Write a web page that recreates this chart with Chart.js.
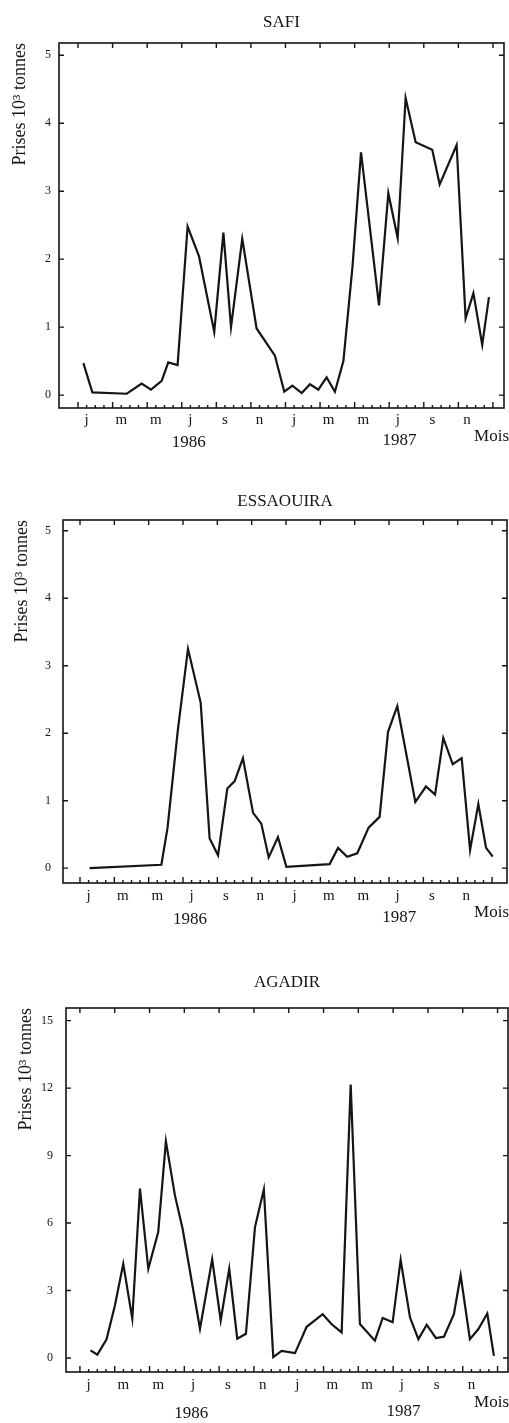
<!DOCTYPE html>
<html>
<head>
<meta charset="utf-8">
<script src="https://cdn.jsdelivr.net/npm/chart.js@4.4.0/dist/chart.umd.min.js"></script>
<style>
    body { margin: 0; background: #fff; width: 509px; height: 1423px; position: relative; overflow: hidden; }
    canvas { position: absolute; left: 0; }
</style>
</head>
<body>
<canvas id="safiChart" width="509" height="460" style="top:0px"></canvas>
<canvas id="essChart" width="509" height="470" style="top:465px"></canvas>
<canvas id="agaChart" width="509" height="473" style="top:950px"></canvas>
<script>
// month letters shown under the x axis (every 2 months, Jan 1986 .. Nov 1987)
const monthLetters = ['j', 'm', 'm', 'j', 's', 'n', 'j', 'm', 'm', 'j', 's', 'n'];
const yearLabels = ['1986', '1987'];
const yLabel = 'Prises 10³ tonnes';

// x = months since 1 Jan 1986, y = catch (10^3 t)
const safiMonths = [0.31, 0.83, 2.82, 3.68, 4.22, 4.84, 5.22, 5.76, 6.34, 7.0, 7.88, 8.41, 8.85, 9.5, 10.33,
    11.39, 11.93, 12.4, 12.94, 13.42, 13.9, 14.38, 14.86, 15.35, 15.88, 16.37, 17.41, 17.95, 18.49, 18.95,
    19.53, 20.49, 20.92, 21.9, 22.42, 22.87, 23.38, 23.77];
const safiCatch = [0.47, 0.04, 0.02, 0.17, 0.08, 0.21, 0.48, 0.44, 2.48, 2.04, 0.93, 2.39, 1.0, 2.3, 0.98,
    0.58, 0.05, 0.14, 0.03, 0.16, 0.08, 0.26, 0.05, 0.5, 1.9, 3.57, 1.32, 2.97, 2.31, 4.37,
    3.72, 3.61, 3.1, 3.68, 1.13, 1.5, 0.74, 1.44];

const essMonths = [0.56, 4.74, 5.1, 5.7, 6.29, 7.03, 7.55, 8.04, 8.58, 9.01, 9.49, 10.08, 10.56, 10.99, 11.53,
    12.02, 14.54, 15.03, 15.56, 16.15, 16.81, 17.45, 17.94, 18.48, 19.53, 20.15, 20.68, 21.16, 21.71,
    22.23, 22.72, 23.2, 23.65, 24.04];
const essCatch = [0.0, 0.05, 0.6, 2.05, 3.25, 2.45, 0.44, 0.19, 1.18, 1.29, 1.63, 0.82, 0.66, 0.16, 0.46,
    0.02, 0.06, 0.3, 0.17, 0.22, 0.6, 0.76, 2.02, 2.4, 0.98, 1.21, 1.09, 1.93, 1.54,
    1.63, 0.27, 0.95, 0.3, 0.17];

const agaMonths = [0.61, 1.0, 1.53, 2.01, 2.49, 3.01, 3.45, 3.93, 4.5, 4.94, 5.46, 5.9, 6.9, 7.6, 8.09, 8.58,
    9.04, 9.54, 10.06, 10.57, 11.11, 11.59, 12.36, 13.03, 13.95, 14.47, 15.04, 15.56, 16.09, 16.95, 17.4,
    17.97, 18.43, 18.97, 19.45, 19.93, 20.46, 20.92, 21.49, 21.88, 22.41, 22.89, 23.41, 23.79];
const agaCatch = [0.34, 0.15, 0.83, 2.34, 4.19, 1.75, 7.53, 3.97, 5.6, 9.63, 7.23, 5.75, 1.3, 4.39, 1.67, 3.97,
    0.86, 1.08, 5.82, 7.5, 0.04, 0.32, 0.22, 1.39, 1.95, 1.5, 1.14, 12.16, 1.51, 0.77, 1.78,
    1.59, 4.36, 1.8, 0.84, 1.48, 0.89, 0.95, 1.95, 3.68, 0.84, 1.28, 1.98, 0.1];

const safiTicks = [0, 1, 2, 3, 4, 5];
const essTicks = [0, 1, 2, 3, 4, 5];
const agaTicks = [0, 3, 6, 9, 12, 15];

const ink = '#151515';
const serif = '"Liberation Serif", "DejaVu Serif", serif';

// draws the box, the inward ticks and the loose texts
const panelDecor = {
    id: 'panelDecor',
    afterDraw(chart, args, opts) {
        const ctx = chart.ctx;
        const area = chart.chartArea;
        const x = chart.scales.x;
        const y = chart.scales.y;
        ctx.save();
        ctx.strokeStyle = ink;
        ctx.lineWidth = 1.6;
        ctx.strokeRect(area.left, area.top, area.right - area.left, area.bottom - area.top);

        ctx.lineWidth = 1.4;
        ctx.beginPath();
        opts.yTicks.forEach(v => {
            const py = y.getPixelForValue(v);
            ctx.moveTo(area.left, py); ctx.lineTo(area.left + 5, py);
            ctx.moveTo(area.right, py); ctx.lineTo(area.right - 5, py);
        });
        for (let m = 0; m <= 24; m += 2) {
            const px = x.getPixelForValue(m);
            ctx.moveTo(px, area.top); ctx.lineTo(px, area.top + 5);
        }
        for (let m = 0; m <= 24; m += 0.5) {
            const px = x.getPixelForValue(m);
            const len = (m % 2 === 0) ? 6 : 3;
            ctx.moveTo(px, area.bottom); ctx.lineTo(px, area.bottom - len);
        }
        ctx.stroke();

        ctx.fillStyle = ink;
        ctx.textBaseline = 'middle';
        ctx.textAlign = 'center';
        ctx.font = '17px ' + serif;
        ctx.fillText(opts.title, (area.left + area.right) / 2, area.top - opts.titleGap);

        ctx.fillText(yearLabels[0], x.getPixelForValue(6.4), area.bottom + opts.yearGap);
        ctx.fillText(yearLabels[1], x.getPixelForValue(18.6), area.bottom + opts.yearGap - 2);
        ctx.textAlign = 'right';
        ctx.fillText('Mois', chart.width, area.bottom + opts.moisGap);
        ctx.restore();
    }
};

function makePanel(canvasId, title, months, values, yTicks, box) {
    const points = months.map((m, i) => ({ x: m, y: values[i] }));
    return new Chart(document.getElementById(canvasId), {
        type: 'line',
        data: {
            datasets: [{
                data: points,
                borderColor: ink,
                borderWidth: 2.2,
                pointRadius: 0,
                tension: 0,
                fill: false,
            }],
        },
        options: {
            responsive: false,
            animation: false,
            devicePixelRatio: 1,
            layout: { padding: { top: box.top, left: 0, right: box.right, bottom: box.bottom } },
            plugins: {
                legend: { display: false },
                tooltip: { enabled: false },
                panelDecor: {
                    title: title, yTicks: yTicks, titleGap: box.titleGap,
                    yearGap: box.yearGap, moisGap: box.moisGap,
                },
            },
            scales: {
                x: {
                    type: 'linear',
                    min: box.xMin, max: box.xMax,
                    grid: { display: false, drawTicks: false },
                    border: { display: false },
                    afterBuildTicks: scale => {
                        scale.ticks = monthLetters.map((_, i) => ({ value: 0.5 + 2 * i }));
                    },
                    afterFit: scale => { scale.height = 20; },
                    ticks: {
                        autoSkip: false, maxRotation: 0, padding: box.xPad,
                        color: ink, font: { family: serif, size: 15 },
                        callback: (v, i) => monthLetters[i],
                    },
                },
                y: {
                    min: box.yMin, max: box.yMax,
                    grid: { display: false, drawTicks: false },
                    border: { display: false },
                    afterBuildTicks: scale => {
                        scale.ticks = yTicks.map(v => ({ value: v }));
                    },
                    afterFit: scale => { scale.width = box.left; },
                    ticks: {
                        padding: box.yPad, color: ink,
                        font: { family: serif, size: 12 },
                    },
                    title: {
                        display: true, text: yLabel, align: 'end', color: ink,
                        font: { family: serif, size: 18 },
                        padding: { top: box.titleX, bottom: 0 },
                    },
                },
            },
        },
        plugins: [panelDecor],
    });
}

document.addEventListener('DOMContentLoaded', function() {
    makePanel('safiChart', 'SAFI', safiMonths, safiCatch, safiTicks, {
        top: 43, left: 59, right: 5, bottom: 32, xMin: -1.1, xMax: 24.64, yMin: -0.19, yMax: 5.18,
        xPad: 3, yPad: 8, titleX: 9, titleGap: 20, yearGap: 35, moisGap: 29,
    });
    makePanel('essChart', 'ESSAOUIRA', essMonths, essCatch, essTicks, {
        top: 55, left: 63, right: 2, bottom: 32, xMin: -0.99, xMax: 24.87, yMin: -0.22, yMax: 5.16,
        xPad: 4, yPad: 12, titleX: 11, titleGap: 18, yearGap: 37, moisGap: 30,
    });
    makePanel('agaChart', 'AGADIR', agaMonths, agaCatch, agaTicks, {
        top: 58, left: 66, right: 1, bottom: 31, xMin: -0.8, xMax: 24.6, yMin: -0.62, yMax: 15.56,
        xPad: 4, yPad: 13, titleX: 15, titleGap: 25, yearGap: 42, moisGap: 31,
    });
});
</script>
</body>
</html>
